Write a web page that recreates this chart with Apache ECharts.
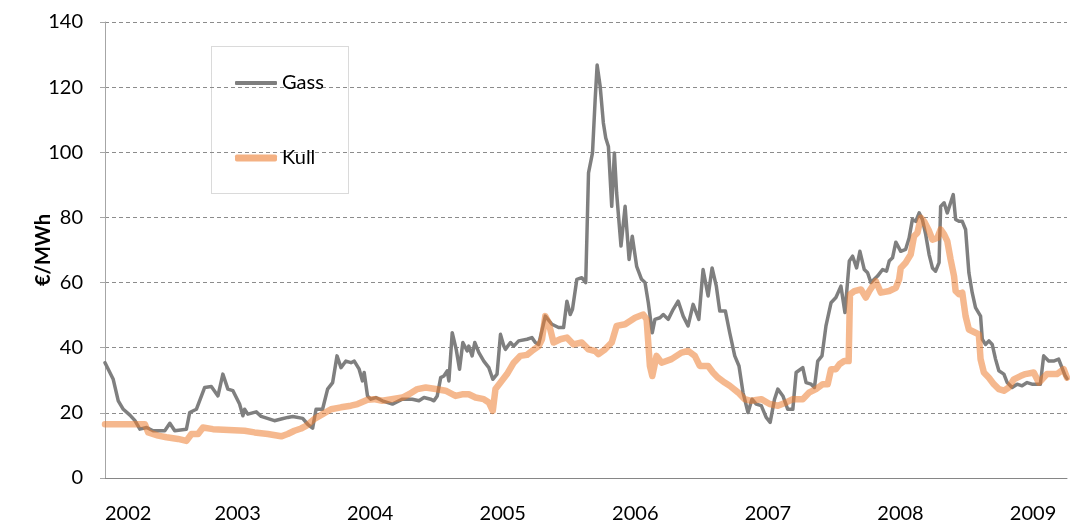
<!DOCTYPE html>
<html>
<head>
<meta charset="utf-8">
<script src="https://cdn.jsdelivr.net/npm/echarts@6/dist/echarts.min.js"></script>
<style>
  html, body { margin: 0; padding: 0; background: #fff; }
  #chart { width: 1070px; height: 524px; }
</style>
</head>
<body>
<div id="chart"></div>
<script>
// Gass - weekly-ish readings (decimal year, €/MWh)
var gasYears = [
  2002.000, 2002.062, 2002.100, 2002.138, 2002.188, 2002.226, 2002.263, 2002.314, 2002.363, 2002.451,
  2002.489, 2002.526, 2002.614, 2002.639, 2002.689, 2002.752, 2002.802, 2002.852, 2002.889, 2002.927,
  2002.965, 2003.015, 2003.040, 2003.053, 2003.077, 2003.141, 2003.178, 2003.278, 2003.329, 2003.378,
  2003.416, 2003.491, 2003.529, 2003.566, 2003.592, 2003.641, 2003.679, 2003.717, 2003.750, 2003.780,
  2003.817, 2003.855, 2003.880, 2003.917, 2003.942, 2003.955, 2003.980, 2004.005, 2004.043, 2004.092,
  2004.168, 2004.243, 2004.318, 2004.368, 2004.406, 2004.456, 2004.481, 2004.506, 2004.532, 2004.556,
  2004.581, 2004.594, 2004.619, 2004.649, 2004.674, 2004.699, 2004.732, 2004.744, 2004.769, 2004.789,
  2004.820, 2004.857, 2004.895, 2004.925, 2004.957, 2004.983, 2005.008, 2005.020, 2005.058, 2005.083,
  2005.120, 2005.183, 2005.220, 2005.246, 2005.271, 2005.321, 2005.371, 2005.421, 2005.459, 2005.484,
  2005.509, 2005.526, 2005.559, 2005.596, 2005.626, 2005.647, 2005.677, 2005.697, 2005.712, 2005.735,
  2005.759, 2005.777, 2005.797, 2005.822, 2005.842, 2005.859, 2005.892, 2005.923, 2005.953, 2005.977,
  2006.010, 2006.047, 2006.073, 2006.098, 2006.128, 2006.148, 2006.186, 2006.211, 2006.248, 2006.286,
  2006.323, 2006.361, 2006.398, 2006.436, 2006.479, 2006.511, 2006.549, 2006.579, 2006.611, 2006.637,
  2006.679, 2006.712, 2006.750, 2006.782, 2006.812, 2006.850, 2006.880, 2006.912, 2006.950, 2006.987,
  2007.017, 2007.050, 2007.075, 2007.113, 2007.150, 2007.188, 2007.213, 2007.263, 2007.288, 2007.326,
  2007.351, 2007.376, 2007.408, 2007.438, 2007.476, 2007.513, 2007.551, 2007.581, 2007.614, 2007.639,
  2007.669, 2007.694, 2007.727, 2007.752, 2007.777, 2007.827, 2007.865, 2007.895, 2007.915, 2007.940,
  2007.965, 2008.002, 2008.039, 2008.065, 2008.090, 2008.115, 2008.141, 2008.165, 2008.190, 2008.216,
  2008.241, 2008.265, 2008.291, 2008.303, 2008.329, 2008.353, 2008.378, 2008.398, 2008.416, 2008.441,
  2008.466, 2008.491, 2008.516, 2008.541, 2008.566, 2008.604, 2008.617, 2008.641, 2008.667, 2008.692,
  2008.717, 2008.742, 2008.780, 2008.805, 2008.842, 2008.880, 2008.917, 2008.955, 2008.992, 2009.055,
  2009.080, 2009.118, 2009.155, 2009.193, 2009.218, 2009.243, 2009.256
];
var gasValues = [
  35.4, 30.3, 23.7, 21.1, 19.3, 17.6, 15.0, 15.5, 14.5, 14.5,
  16.8, 14.5, 15.0, 20.1, 21.1, 27.8, 28.1, 25.2, 31.9, 27.3,
  26.8, 22.7, 19.1, 21.1, 19.6, 20.3, 18.9, 17.6, 18.1, 18.6,
  18.9, 18.3, 16.5, 15.3, 21.1, 21.1, 27.3, 29.3, 37.5, 33.9,
  35.9, 35.4, 35.9, 33.4, 29.8, 32.4, 25.2, 24.2, 24.7, 23.7,
  22.7, 24.2, 24.2, 23.7, 24.7, 24.2, 23.7, 25.2, 30.8, 31.3,
  32.9, 29.8, 44.6, 39.5, 33.4, 41.6, 39.0, 40.5, 37.5, 41.6,
  38.5, 35.9, 33.9, 30.3, 31.9, 44.1, 40.5, 39.5, 41.6, 40.5,
  42.1, 42.6, 43.1, 41.6, 41.0, 49.7, 47.2, 46.2, 46.2, 54.3,
  50.2, 51.8, 61.0, 61.5, 60.0, 93.7, 99.8, 116.1, 126.8, 120.2,
  109.0, 104.4, 101.8, 83.4, 99.8, 87.5, 71.2, 83.4, 67.1, 74.2,
  65.0, 61.0, 60.0, 53.8, 44.6, 48.7, 49.2, 50.2, 48.7, 51.8,
  54.3, 49.7, 46.7, 53.3, 48.7, 64.0, 55.9, 64.5, 58.9, 51.3,
  51.3, 44.6, 37.5, 34.4, 26.3, 20.1, 24.2, 22.7, 22.2, 18.6,
  17.1, 24.2, 27.3, 25.2, 21.1, 21.1, 32.4, 33.9, 29.3, 28.8,
  27.8, 35.9, 37.5, 46.7, 53.8, 55.4, 58.9, 50.8, 66.6, 68.1,
  64.5, 69.6, 64.0, 63.0, 60.0, 62.0, 64.0, 63.5, 66.6, 67.6,
  72.4, 69.6, 70.2, 73.7, 79.4, 78.8, 81.4, 79.4, 74.8, 68.6,
  64.5, 63.5, 66.1, 83.4, 84.5, 81.4, 84.5, 87.0, 79.4, 78.8,
  78.8, 76.3, 63.0, 56.9, 52.3, 49.7, 42.6, 41.0, 42.1, 41.0,
  36.5, 32.9, 31.9, 29.3, 27.8, 28.8, 28.3, 29.3, 28.8, 28.8,
  37.5, 35.9, 35.9, 36.5, 33.9, 31.3, 30.5
];

// Kull
var kullYears = [
  2002.000, 2002.301, 2002.326, 2002.401, 2002.464, 2002.551, 2002.614, 2002.652, 2002.702, 2002.739,
  2002.814, 2003.053, 2003.128, 2003.228, 2003.329, 2003.378, 2003.429, 2003.479, 2003.517, 2003.579,
  2003.641, 2003.705, 2003.780, 2003.855, 2003.905, 2003.980, 2004.030, 2004.092, 2004.243, 2004.293,
  2004.356, 2004.419, 2004.494, 2004.569, 2004.644, 2004.694, 2004.744, 2004.795, 2004.857, 2004.895,
  2004.925, 2004.945, 2004.983, 2005.032, 2005.083, 2005.133, 2005.183, 2005.220, 2005.271, 2005.296,
  2005.321, 2005.346, 2005.383, 2005.434, 2005.484, 2005.534, 2005.596, 2005.647, 2005.697, 2005.722,
  2005.772, 2005.822, 2005.859, 2005.923, 2005.998, 2006.060, 2006.085, 2006.110, 2006.128, 2006.160,
  2006.198, 2006.273, 2006.348, 2006.398, 2006.449, 2006.486, 2006.549, 2006.586, 2006.624, 2006.674,
  2006.712, 2006.774, 2006.825, 2006.874, 2006.950, 2007.013, 2007.075, 2007.138, 2007.188, 2007.263,
  2007.313, 2007.363, 2007.414, 2007.451, 2007.476, 2007.513, 2007.539, 2007.576, 2007.609, 2007.619,
  2007.652, 2007.702, 2007.739, 2007.765, 2007.814, 2007.852, 2007.915, 2007.965, 2007.990, 2008.002,
  2008.039, 2008.077, 2008.102, 2008.128, 2008.153, 2008.178, 2008.216, 2008.241, 2008.278, 2008.303,
  2008.329, 2008.353, 2008.378, 2008.404, 2008.416, 2008.441, 2008.466, 2008.491, 2008.516, 2008.566,
  2008.591, 2008.604, 2008.629, 2008.667, 2008.704, 2008.742, 2008.780, 2008.817, 2008.855, 2008.905,
  2008.942, 2009.005, 2009.043, 2009.068, 2009.105, 2009.180, 2009.231, 2009.256
];
var kullValues = [
  16.5, 16.5, 14.0, 13.0, 12.5, 12.0, 11.4, 13.5, 13.5, 15.5,
  15.0, 14.5, 14.0, 13.5, 12.8, 13.5, 14.5, 15.2, 16.0, 18.1,
  19.6, 21.1, 21.7, 22.2, 22.7, 24.0, 24.2, 23.7, 24.7, 25.7,
  27.3, 27.8, 27.3, 26.8, 25.2, 25.7, 25.7, 24.7, 24.2, 23.2,
  20.6, 27.3, 29.3, 31.9, 35.4, 37.5, 37.8, 39.0, 40.5, 42.6,
  49.7, 47.7, 41.6, 42.6, 43.1, 41.0, 41.6, 39.5, 39.0, 38.0,
  39.5, 41.6, 46.7, 47.2, 49.2, 50.2, 48.7, 34.4, 31.3, 37.5,
  35.4, 36.5, 38.5, 39.0, 37.5, 34.4, 34.4, 32.4, 30.8, 29.3,
  28.3, 26.3, 24.2, 23.7, 24.2, 22.7, 22.2, 23.2, 24.2, 24.2,
  26.3, 27.3, 28.8, 28.8, 33.4, 33.4, 34.9, 35.9, 35.9, 56.4,
  57.4, 57.9, 55.4, 57.4, 60.4, 56.9, 57.4, 58.4, 61.0, 64.5,
  66.1, 68.6, 74.2, 75.3, 79.9, 78.8, 75.8, 73.2, 73.7, 76.3,
  74.8, 72.7, 67.1, 62.0, 57.4, 56.4, 56.9, 49.7, 45.6, 44.6,
  44.1, 36.5, 32.4, 30.8, 28.8, 27.3, 26.8, 27.8, 30.3, 31.3,
  31.9, 32.4, 29.3, 30.3, 31.9, 31.9, 33.4, 30.8
];

var seriesNames = ['Gass', 'Kull'];
var yMin = 0, yMax = 140, yStep = 20;
var xMin = 2002, xMax = 2009.256;

var font = 'Lato, "Open Sans", sans-serif';
var gasColor = '#7f7f7f';
var kullColor = '#f4b183';

var chart = echarts.init(document.getElementById('chart'), null, { renderer: 'canvas' });

// two legend blocks so each icon can have its own thickness
function legendBlock(name, top, h) {
  return {
    orient: 'vertical',
    left: 235,
    top: top,
    padding: 0,
    icon: 'roundRect',
    itemWidth: 42,
    itemHeight: h,
    textStyle: { fontFamily: font, fontSize: 20, color: '#000' },
    data: [name]
  };
}

var option = {
  animation: false,
  backgroundColor: '#ffffff',
  grid: { left: 105, right: 0, top: 22, bottom: 45, containLabel: false },
  legend: [
    legendBlock(seriesNames[0], 73, 4),
    legendBlock(seriesNames[1], 148, 7)
  ],
  graphic: [{
    type: 'rect',
    shape: { x: 211.5, y: 46.5, width: 137, height: 147 },
    style: { fill: 'none', stroke: '#b4b4b4', lineWidth: 1, lineDash: [1, 1] },
    z: -1
  }],
  xAxis: {
    type: 'value',
    min: xMin,
    max: xMax,
    interval: 1,
    axisLine: { show: true, lineStyle: { color: '#868686', width: 1 } },
    axisTick: { show: false },
    splitLine: { show: false },
    axisLabel: {
      margin: 26,
      color: '#000',
      fontFamily: font,
      fontSize: 20,
      alignMinLabel: 'left',
      formatter: function (v) { return Number.isInteger(v) ? String(v) : ''; }
    }
  },
  yAxis: {
    type: 'value',
    min: yMin,
    max: yMax,
    interval: yStep,
    name: '€/MWh',
    nameLocation: 'middle',
    nameGap: 51,
    nameRotate: 90,
    nameMoveOverlap: false,
    nameTextStyle: { fontFamily: font, fontSize: 20, fontWeight: 'bold', color: '#000' },
    axisLine: { show: true, lineStyle: { color: '#a6a6a6', width: 1 } },
    axisTick: { show: true, length: 5, lineStyle: { color: '#a6a6a6' } },
    splitLine: { show: true, lineStyle: { color: '#8c8c8c', type: [4, 3], width: 1 } },
    axisLabel: { margin: 22, color: '#000', fontFamily: font, fontSize: 20 }
  },
  series: [
    {
      name: seriesNames[0],
      type: 'line',
      symbol: 'none',
      color: gasColor,
      lineStyle: { color: gasColor, width: 3.5, cap: 'round', join: 'round' },
      data: gasYears.map(function (t, i) { return [t, gasValues[i]]; }),
      z: 2
    },
    {
      name: seriesNames[1],
      type: 'line',
      symbol: 'none',
      color: kullColor,
      lineStyle: { color: 'rgba(237,125,49,0.55)', width: 6.5, cap: 'round', join: 'round' },
      data: kullYears.map(function (t, i) { return [t, kullValues[i]]; }),
      z: 3
    }
  ]
};

chart.setOption(option);
window.onresize = function () { chart.resize(); };
</script>
</body>
</html>
